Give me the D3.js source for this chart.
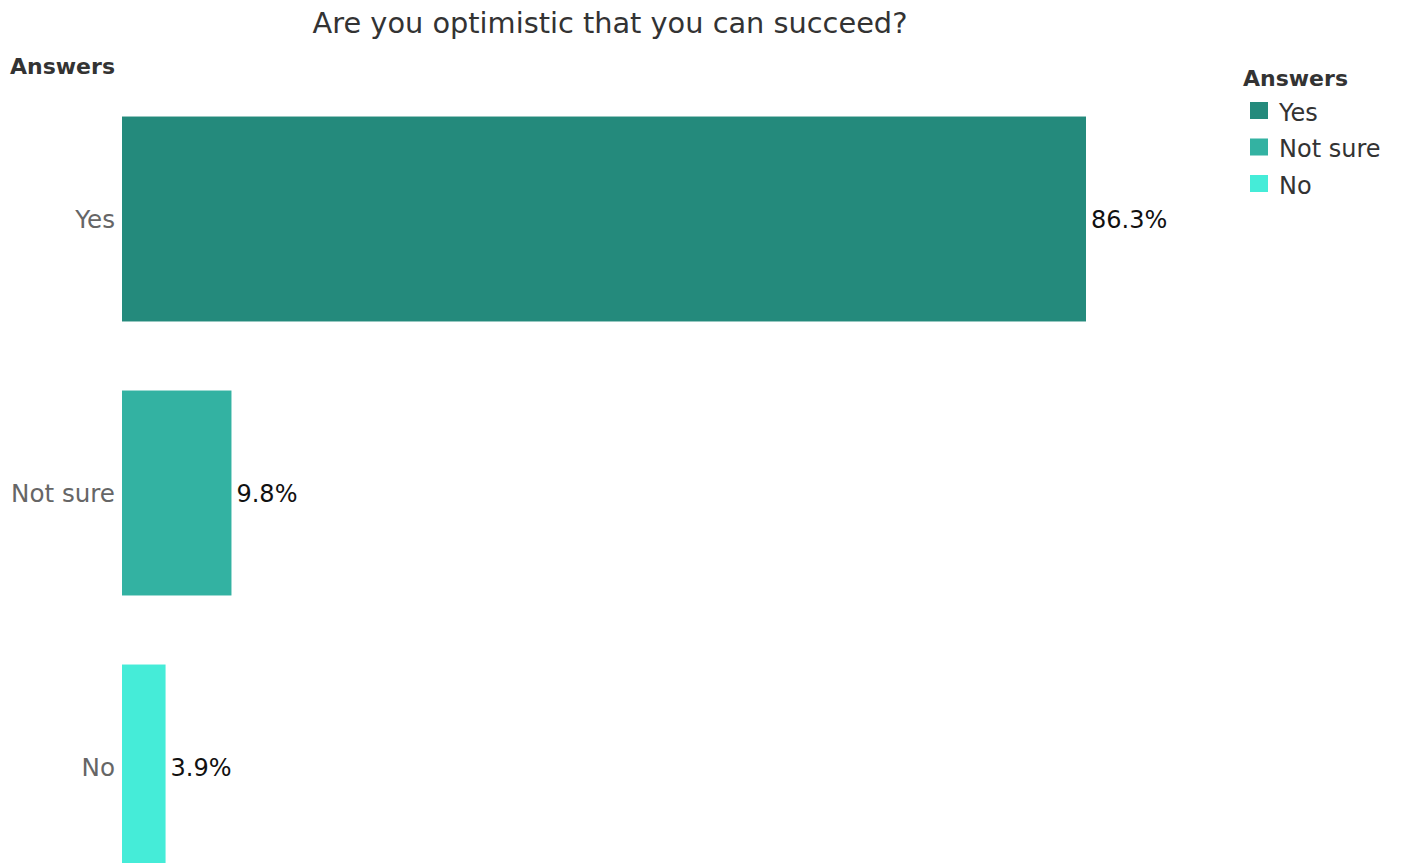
<!DOCTYPE html>
<html>
<head>
<meta charset="utf-8">
<script src="https://cdn.jsdelivr.net/npm/d3@7"></script>
<style>
  html, body { margin: 0; padding: 0; background: #fff; overflow: hidden; }
  svg { display: block; font-family: "DejaVu Sans", "Open Sans", sans-serif; }
</style>
</head>
<body>
<svg id="chart" width="1403" height="863"></svg>
<script>
const categories = ["Yes", "Not sure", "No"];
const values = [86.3, 9.8, 3.9];
const colors = ["#248a7c", "#33b2a2", "#45ecd8"];
const title = "Are you optimistic that you can succeed?";
const axisTitle = "Answers";

const FONT = "\"DejaVu Sans\", \"Open Sans\", sans-serif";
const svg = d3.select("#chart");

const x = d3.scaleLinear().domain([0, 86.3]).range([122, 1086]);
const y = d3.scaleBand().domain(categories).range([82, 904])
  .paddingInner(0.252).paddingOuter(0.126);
const color = d3.scaleOrdinal().domain(categories).range(colors);

const data = categories.map((c, i) => ({ cat: c, val: values[i] }));

// title
svg.append("text")
  .attr("x", 610).attr("y", 33)
  .attr("text-anchor", "middle")
  .attr("font-size", 28.8).attr("fill", "#333")
  .text(title);

// row header
svg.append("text")
  .attr("x", 10).attr("y", 74)
  .attr("font-size", 22).attr("font-weight", "bold").attr("fill", "#333")
  .text(axisTitle);

// bars
svg.selectAll("rect.bar").data(data).join("rect")
  .attr("class", "bar")
  .attr("x", x(0))
  .attr("y", d => y(d.cat))
  .attr("width", d => x(d.val) - x(0))
  .attr("height", y.bandwidth())
  .attr("fill", d => color(d.cat));

// category axis labels
const yAxis = svg.append("g")
  .attr("transform", `translate(${x(0)},0)`)
  .call(d3.axisLeft(y).tickSize(0).tickPadding(7));
yAxis.select(".domain").remove();
yAxis.selectAll("text")
  .attr("font-family", FONT)
  .attr("font-size", 24.6).attr("fill", "#666")
  .attr("dy", "0.38em");

// value labels
svg.selectAll("text.val").data(data).join("text")
  .attr("class", "val")
  .attr("x", d => x(d.val) + 5)
  .attr("y", d => y(d.cat) + y.bandwidth() / 2)
  .attr("dy", "0.38em")
  .attr("font-size", 24).attr("fill", "#111")
  .text(d => d.val.toFixed(1) + "%");

// legend
const legend = svg.append("g");
legend.append("text")
  .attr("x", 1243).attr("y", 86)
  .attr("font-size", 22).attr("font-weight", "bold").attr("fill", "#333")
  .text(axisTitle);
const items = legend.selectAll("g.item").data(categories).join("g")
  .attr("class", "item")
  .attr("transform", (d, i) => `translate(1250,${102 + i * 36.5})`);
items.append("rect")
  .attr("width", 18).attr("height", 17)
  .attr("fill", d => color(d));
items.append("text")
  .attr("x", 29).attr("y", 9).attr("dy", "0.4em")
  .attr("font-size", 24).attr("fill", "#333")
  .text(d => d);
</script>
</body>
</html>
